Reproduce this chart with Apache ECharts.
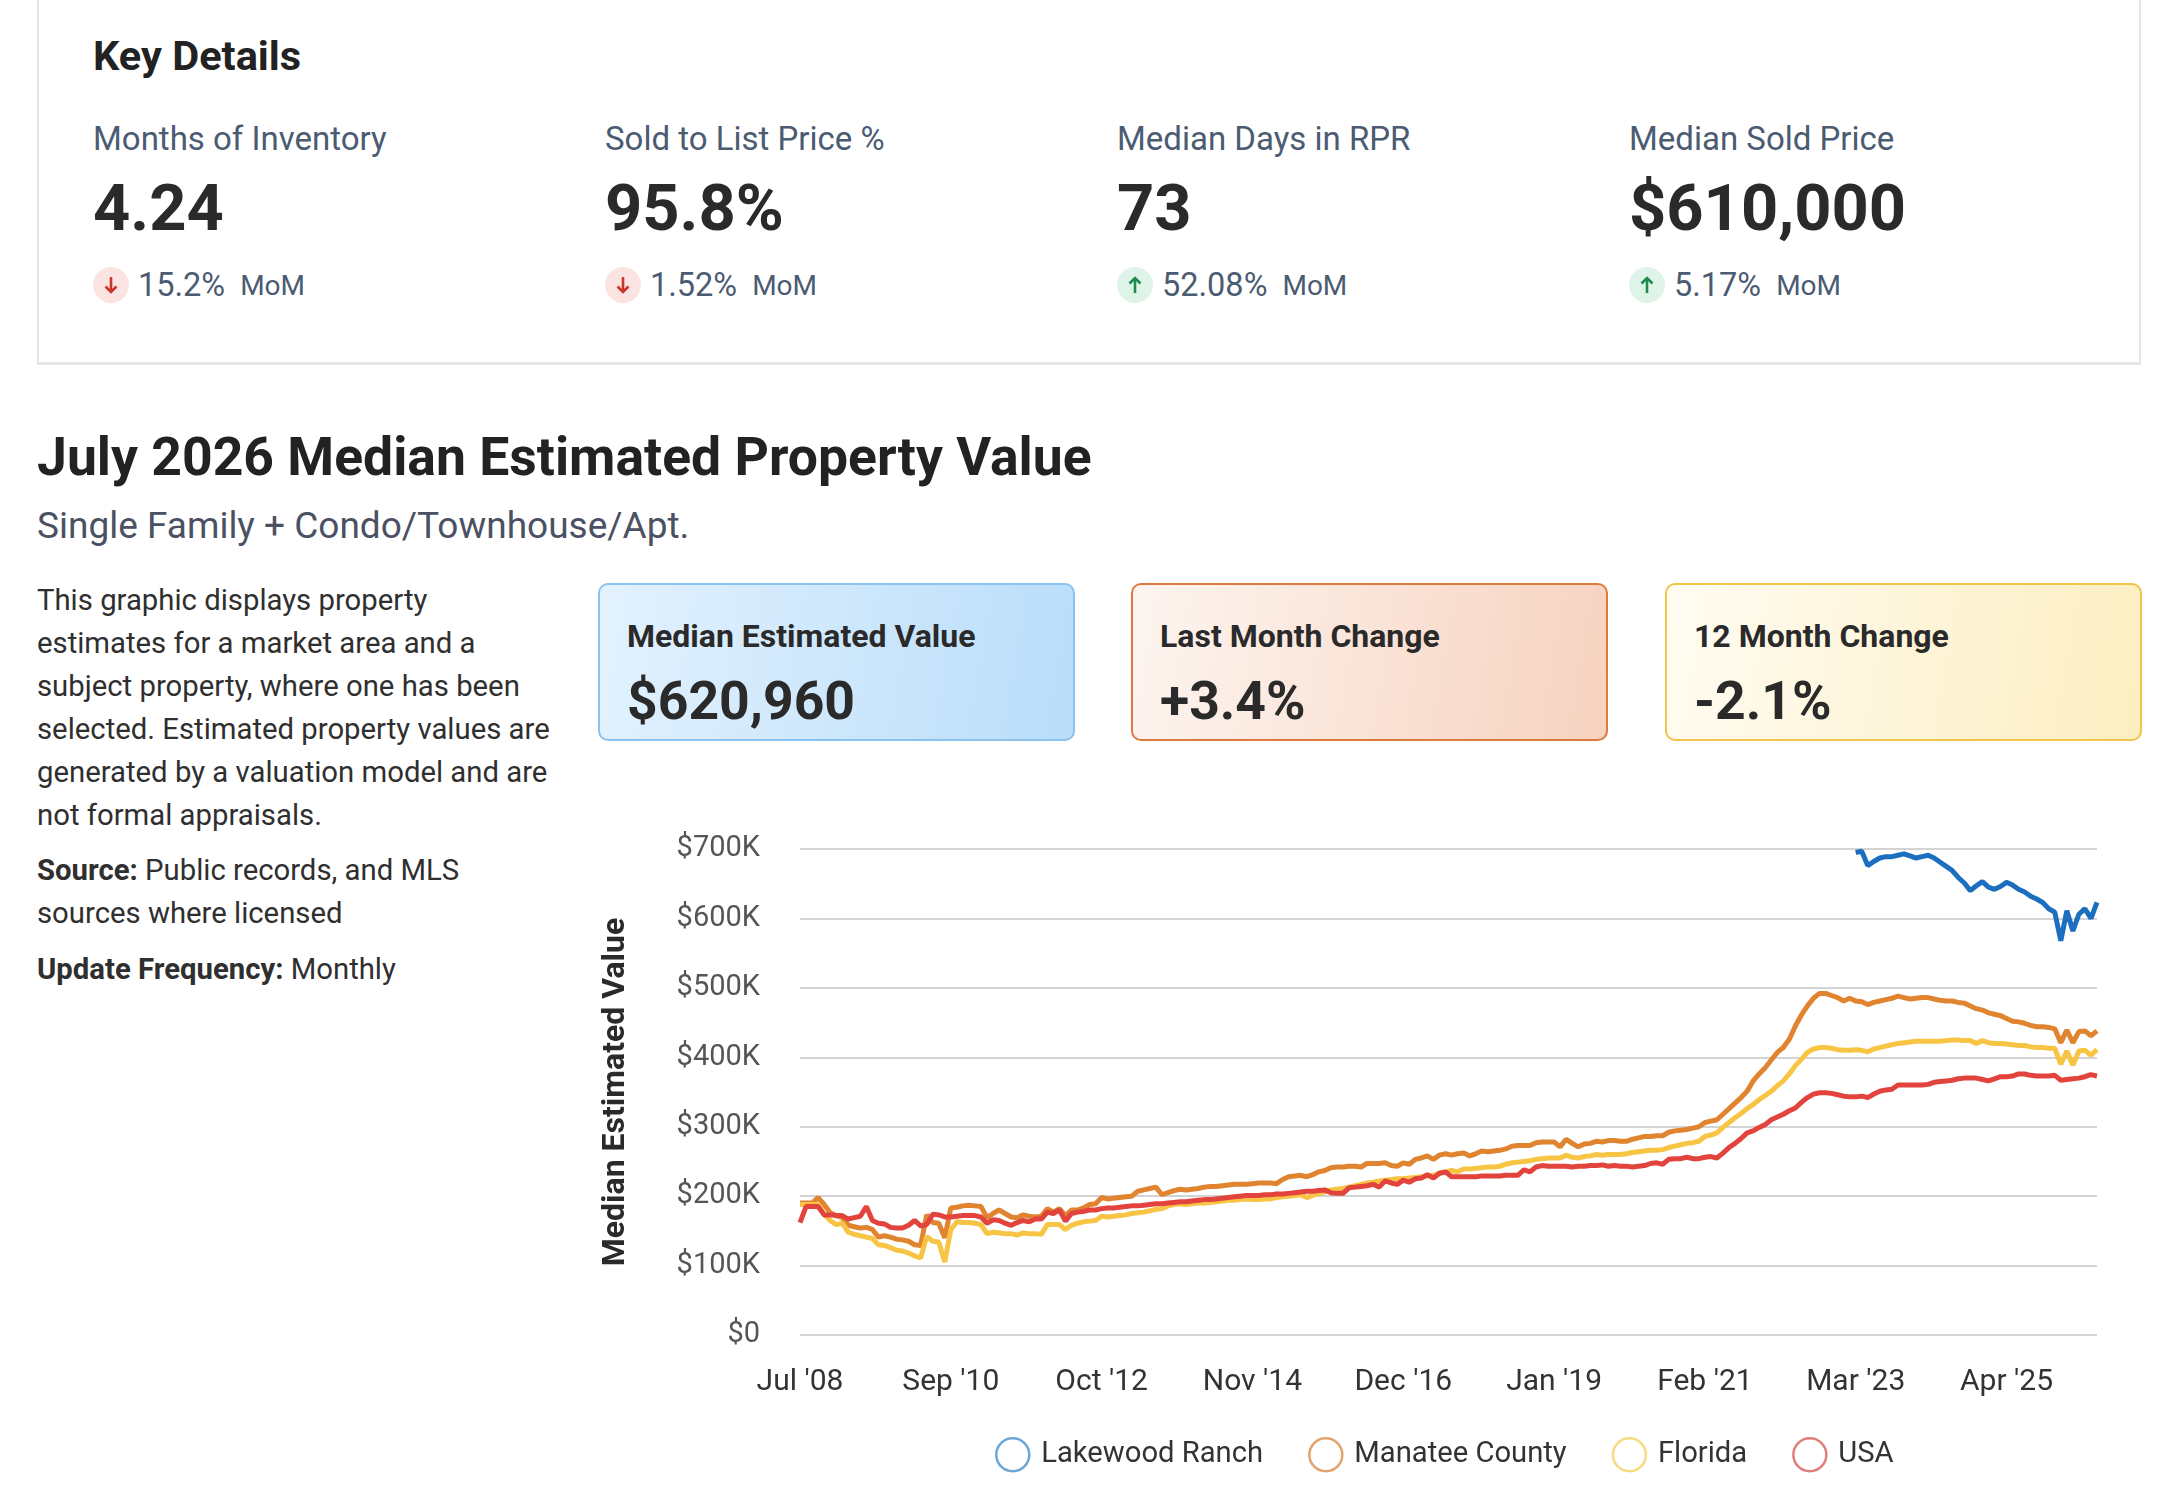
<!DOCTYPE html>
<html>
<head>
<meta charset="utf-8">
<title>Median Estimated Property Value</title>
<script src="https://cdn.jsdelivr.net/npm/echarts@6/dist/echarts.min.js"></script>
<style>
  html, body { margin: 0; padding: 0; background: #fff; }
  body { width: 2178px; height: 1511px; overflow: hidden; position: relative; font-family: Roboto, "Noto Sans", sans-serif; color: #2a2a2a; }
  .abs { position: absolute; white-space: nowrap; }
  .card { position: absolute; left: 37px; top: -4px; width: 2104px; height: 369px; box-sizing: border-box; border: 2px solid #e3e5e8; border-bottom-width: 3px; background: #fff; }
  .kd-title { left: 93px; top: 31px; font-size: 41.5px; line-height: 50px; font-weight: 700; color: #222; }
  .kd-label { top: 119px; font-size: 33px; line-height: 40px; color: #4b5b72; }
  .kd-value { top: 168px; font-size: 65px; line-height: 80px; font-weight: 700; color: #2a2a2a; }
  .kd-mom { top: 267px; height: 36px; display: flex; align-items: center; }
  .kd-mom .ic { width: 36px; height: 36px; border-radius: 50%; display: flex; align-items: center; justify-content: center; margin-right: 9px; }
  .ic.down { background: #fbe3e1; }
  .ic.up { background: #dff4e8; }
  .kd-mom .pct { font-size: 32.5px; color: #4b5b72; margin-right: 15px; }
  .kd-mom .mom { font-size: 28px; color: #4b5b72; }
  .title { left: 37px; top: 424px; font-size: 53.5px; line-height: 66px; font-weight: 700; color: #222; }
  .subtitle { left: 37px; top: 503px; font-size: 37px; line-height: 46px; color: #4a5162; }
  .desc { left: 37px; font-size: 29.3px; line-height: 43px; color: #2f2f2f; }
  .desc b { font-weight: 700; }
  .box { position: absolute; top: 583px; width: 477px; height: 158px; box-sizing: border-box; border: 2px solid; border-radius: 10px; }
  .box .bl { position: absolute; left: 27px; top: 32px; font-size: 32px; line-height: 38px; font-weight: 700; color: #2a2a2a; white-space: nowrap; }
  .box .bv { position: absolute; left: 27px; top: 84px; font-size: 53.5px; line-height: 64px; font-weight: 700; color: #2a2a2a; white-space: nowrap; }
  #chart { position: absolute; left: 0; top: 0; width: 2178px; height: 1511px; }
</style>
</head>
<body>

<div class="card"></div>
<div class="abs kd-title">Key Details</div>

<div class="abs kd-label" style="left:93px">Months of Inventory</div>
<div class="abs kd-value" style="left:93px">4.24</div>
<div class="abs kd-mom" style="left:93px">
  <span class="ic down"><svg width="16" height="20" viewBox="0 0 16 20"><path d="M8 2 V17 M2.5 11.5 L8 17 L13.5 11.5" stroke="#c8372d" stroke-width="2.6" fill="none"/></svg></span>
  <span class="pct">15.2%</span><span class="mom">MoM</span>
</div>

<div class="abs kd-label" style="left:605px">Sold to List Price %</div>
<div class="abs kd-value" style="left:605px">95.8%</div>
<div class="abs kd-mom" style="left:605px">
  <span class="ic down"><svg width="16" height="20" viewBox="0 0 16 20"><path d="M8 2 V17 M2.5 11.5 L8 17 L13.5 11.5" stroke="#c8372d" stroke-width="2.6" fill="none"/></svg></span>
  <span class="pct">1.52%</span><span class="mom">MoM</span>
</div>

<div class="abs kd-label" style="left:1117px">Median Days in RPR</div>
<div class="abs kd-value" style="left:1117px">73</div>
<div class="abs kd-mom" style="left:1117px">
  <span class="ic up"><svg width="16" height="20" viewBox="0 0 16 20"><path d="M8 18 V3 M2.5 8.5 L8 3 L13.5 8.5" stroke="#1e8a4c" stroke-width="2.6" fill="none"/></svg></span>
  <span class="pct">52.08%</span><span class="mom">MoM</span>
</div>

<div class="abs kd-label" style="left:1629px">Median Sold Price</div>
<div class="abs kd-value" style="left:1629px">$610,000</div>
<div class="abs kd-mom" style="left:1629px">
  <span class="ic up"><svg width="16" height="20" viewBox="0 0 16 20"><path d="M8 18 V3 M2.5 8.5 L8 3 L13.5 8.5" stroke="#1e8a4c" stroke-width="2.6" fill="none"/></svg></span>
  <span class="pct">5.17%</span><span class="mom">MoM</span>
</div>

<div class="abs title">July 2026 Median Estimated Property Value</div>
<div class="abs subtitle">Single Family + Condo/Townhouse/Apt.</div>

<div class="abs desc" style="top:579px">This graphic displays property<br>estimates for a market area and a<br>subject property, where one has been<br>selected. Estimated property values are<br>generated by a valuation model and are<br>not formal appraisals.</div>
<div class="abs desc" style="top:849px"><b>Source:</b> Public records, and MLS<br>sources where licensed</div>
<div class="abs desc" style="top:948px"><b>Update Frequency:</b> Monthly</div>

<div class="box" style="left:598px; border-color:#8cc3ee; background:linear-gradient(100deg,#e3f2fe 0%,#b9ddfa 100%)">
  <div class="bl">Median Estimated Value</div>
  <div class="bv">$620,960</div>
</div>
<div class="box" style="left:1131px; border-color:#de7a3d; background:linear-gradient(100deg,#fdf5f0 0%,#f7d2bf 100%)">
  <div class="bl">Last Month Change</div>
  <div class="bv">+3.4%</div>
</div>
<div class="box" style="left:1665px; border-color:#f1c54a; background:linear-gradient(100deg,#fffcf2 0%,#fdeec1 100%)">
  <div class="bl">12 Month Change</div>
  <div class="bv">-2.1%</div>
</div>

<div id="chart"></div>

<script>
// monthly labels Jul '08 .. Jul '26 (the source data has no Aug '08 point)
const monthNames = ["Jan", "Feb", "Mar", "Apr", "May", "Jun", "Jul", "Aug", "Sep", "Oct", "Nov", "Dec"];
const skippedMonths = ["Aug '08"];
const months = [];
for (let y = 2008; y <= 2026; y++) {
  for (let m = 0; m < 12; m++) {
    if ((y === 2008 && m < 6) || (y === 2026 && m > 6)) continue;
    const label = monthNames[m] + " '" + String(y).slice(2);
    if (skippedMonths.indexOf(label) === -1) months.push(label);
  }
}

// values in $K
const usa = [
  162, 185, 185, 185, 173, 173, 172, 172, 167, 169,
  171, 185, 165, 161, 160, 155, 154, 154, 158, 165,
  157, 159, 174, 173, 170, 170, 171, 172, 172, 172,
  170, 161, 166, 165, 161, 158, 162, 165, 163, 167,
  167, 177, 175, 180, 164, 175, 177, 178, 180, 180,
  182, 183, 183, 184, 185, 186, 186, 187, 188, 189,
  189, 190, 191, 192, 192, 193, 194, 195, 195, 196,
  197, 198, 199, 200, 201,
  201, 201, 202, 202, 203, 203, 204, 205, 206, 207,
  207, 208, 209, 205, 204, 204, 212, 213, 214, 215,
  217, 213, 222, 219, 217, 223, 220, 225, 226, 231,
  226, 233, 235, 228, 228, 228, 228, 228, 229, 229,
  229, 229, 230, 230, 230, 238, 235, 242, 244, 243,
  243, 243, 243, 242, 243, 243, 244, 244, 245, 243,
  244, 243, 243, 242, 243, 244, 247, 248, 246, 253,
  254, 254, 256, 254, 254,
  256, 257, 255, 262, 270, 276, 283, 291, 294, 299,
  303, 310, 314, 318, 323, 327, 335, 342, 347, 349,
  349, 348, 346, 344, 343, 343, 344, 342, 347, 351,
  353, 354, 360, 360, 360, 360, 360, 361, 364, 365,
  366, 367, 369, 370, 370, 370, 368, 366, 369, 372,
  372, 373, 376, 376, 374, 373, 373, 373, 374, 367,
  368, 369, 370, 372, 375, 373
];

const manatee = [
  190, 190, 190, 198, 188, 176, 172, 169, 158, 156,
  154, 155, 152, 141, 143, 141, 138, 137, 135, 130,
  129, 173, 162, 161, 140, 183, 184, 186, 187, 186,
  185, 169, 175, 180, 175, 170, 169, 173, 171, 170,
  171, 182, 177, 182, 172, 180, 180, 183, 188, 189,
  198, 196, 197, 198, 199, 200, 207, 209, 211, 213,
  202, 205, 208, 210, 209, 210, 211, 213, 214, 214,
  215, 216, 217, 217, 217,
  218, 219, 219, 219, 218, 224, 228, 229, 230, 228,
  231, 235, 237, 241, 242, 242, 243, 243, 242, 247,
  247, 247, 248, 244, 243, 248, 246, 253, 255, 258,
  253, 259, 261, 259, 261, 262, 258, 261, 265, 264,
  265, 266, 268, 272, 273, 273, 273, 277, 278, 278,
  278, 271, 282, 276, 271, 275, 276, 279, 278, 280,
  280, 279, 279, 282, 284, 286, 286, 287, 287, 292,
  294, 295, 296, 298, 300,
  306, 308, 310, 318, 326, 334, 342, 351, 366, 376,
  385, 396, 407, 414, 426, 445, 461, 474, 485, 492,
  492, 489, 486, 481, 485, 481, 480, 476, 479, 481,
  483, 485, 488, 486, 484, 485, 486, 486, 484, 482,
  481, 481, 479, 478, 474, 470, 468, 464, 462, 460,
  456, 452, 451, 449, 446, 444, 444, 443, 441, 421,
  439, 421, 437, 438, 431, 438
];

const florida = [
  188, 188, 188, 188, 174, 165, 159, 161, 148, 145,
  143, 141, 139, 130, 129, 126, 122, 121, 118, 114,
  111, 142, 135, 134, 105, 152, 163, 162, 162, 161,
  159, 146, 148, 147, 146, 146, 144, 147, 146, 146,
  145, 159, 159, 159, 152, 158, 161, 163, 164, 165,
  171, 170, 171, 172, 173, 175, 176, 177, 179, 181,
  182, 186, 188, 189, 188, 189, 190, 190, 191, 192,
  193, 194, 194, 195, 196,
  195, 195, 196, 196, 198, 199, 200, 201, 202, 198,
  201, 204, 206, 209, 210, 211, 213, 215, 217, 219,
  220, 222, 223, 224, 225, 225, 226, 227, 228, 229,
  230, 233, 235, 237, 235, 239, 239, 240, 241, 242,
  242, 243, 246, 248, 249, 250, 251, 253, 254, 255,
  255, 255, 259, 256, 255, 257, 258, 260, 259, 260,
  260, 260, 261, 263, 264, 265, 266, 266, 267, 270,
  272, 274, 276, 277, 279,
  286, 288, 291, 299, 306, 313, 319, 326, 332, 339,
  345, 351, 359, 366, 376, 388, 397, 407, 412, 414,
  414, 413, 411, 410, 410, 411, 410, 408, 412, 414,
  416, 418, 420, 421, 422, 423, 423, 423, 423, 423,
  424, 425, 425, 424, 424, 420, 424, 421, 420, 420,
  419, 418, 417, 417, 415, 414, 414, 413, 413, 390,
  409, 389, 409, 410, 403, 411
];

// Lakewood Ranch only has estimates from Mar '23 on
const lakewoodStart = "Mar '23";
const lakewood = [
  695, 697, 676, 682, 687, 689, 689, 691, 693, 690,
  687, 689, 691, 687, 681, 675, 669, 659, 651, 640,
  647, 653, 645, 642, 646, 652, 648, 642, 638, 632,
  628, 623, 614, 609, 568, 611, 582, 606, 614, 600,
  623
];

const yTicks = [0, 100, 200, 300, 400, 500, 600, 700];

const seriesNames = ["Lakewood Ranch", "Manatee County", "Florida", "USA"];
const lineColors = ["#1c6fbf", "#e0842f", "#f8c443", "#e2433d"];
const legendColors = ["#6ea6d6", "#e3a36c", "#f6db80", "#df7f7c"];

const lakewoodData = new Array(months.indexOf(lakewoodStart)).fill(null).concat(lakewood);
const seriesData = [lakewoodData, manatee, florida, usa];

const chart = echarts.init(document.getElementById("chart"));

chart.setOption({
  animation: false,
  backgroundColor: "transparent",
  textStyle: { fontFamily: "Roboto" },
  grid: { left: 800, right: 81, top: 849, bottom: 176 },
  legend: {
    left: 990,
    top: 1432,
    icon: "circle",
    itemWidth: 33,
    itemHeight: 33,
    itemGap: 45,
    textStyle: { fontSize: 29.2, color: "#333", padding: [0, 0, 0, 7] },
    data: seriesNames.map((n, i) => ({
      name: n,
      itemStyle: { color: "#fff", borderColor: legendColors[i], borderWidth: 2.5 }
    }))
  },
  xAxis: {
    type: "category",
    data: months,
    boundaryGap: false,
    axisLine: { show: false },
    axisTick: { show: false },
    axisLabel: { interval: 24, fontSize: 30, color: "#333", margin: 32 }
  },
  yAxis: {
    type: "value",
    min: yTicks[0],
    max: yTicks[yTicks.length - 1],
    interval: yTicks[1] - yTicks[0],
    name: "Median Estimated Value",
    nameLocation: "middle",
    nameGap: 168,
    nameTextStyle: { fontSize: 32, fontWeight: "bold", color: "#2a2a2a" },
    axisLine: { show: false },
    axisTick: { show: false },
    axisLabel: {
      fontSize: 29,
      color: "#555",
      margin: 40,
      formatter: (v) => (v === 0 ? "$0" : "$" + v + "K")
    },
    splitLine: { lineStyle: { color: "#d3d3d3", width: 2 } }
  },
  series: seriesNames.map((n, i) => ({
    name: n,
    type: "line",
    data: seriesData[i],
    symbol: "none",
    connectNulls: false,
    z: i + 2,
    lineStyle: { color: lineColors[i], width: 5 },
    itemStyle: { color: lineColors[i] }
  }))
});
</script>
</body>
</html>
